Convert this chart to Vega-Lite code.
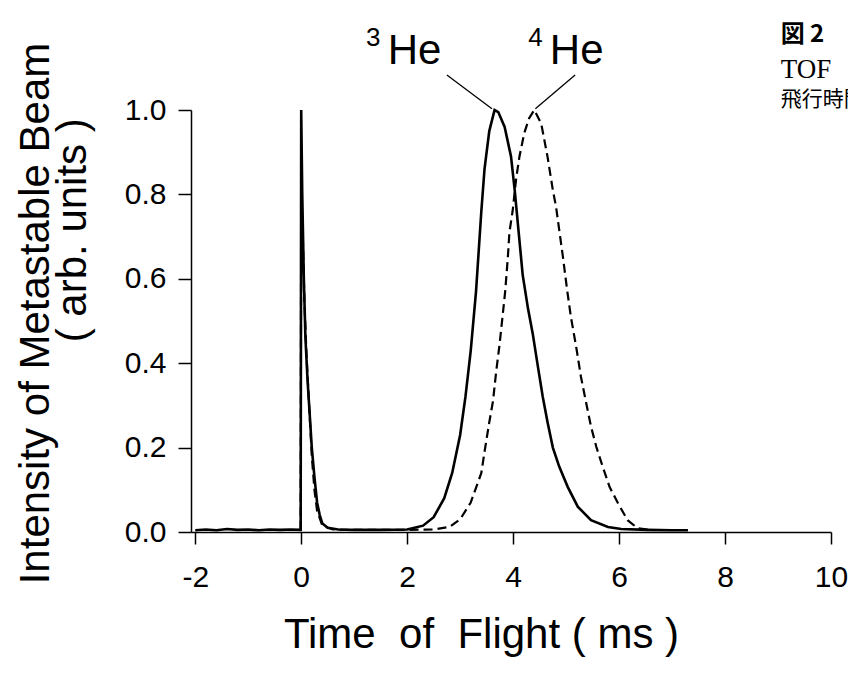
{
  "$schema": "https://vega.github.io/schema/vega-lite/v6.json",
  "autosize": "none",
  "width": 640,
  "height": 422,
  "padding": {"left": 191, "top": 110, "right": 17, "bottom": 143},
  "background": "white",
  "config": {
    "view": {"stroke": null},
    "font": "Liberation Sans",
    "axis": {"grid": false, "domainColor": "black", "domainWidth": 1.5, "tickColor": "black", "tickWidth": 1.5, "tickSize": 12, "labelColor": "black", "titleColor": "black", "labelFont": "Liberation Sans", "titleFont": "Liberation Sans", "titleFontWeight": "normal", "labelFlush": false}
  },
  "datasets": {
    "curves": [
      {"series": "3He", "t": -2.0, "v": 0.004}, {"series": "3He", "t": -1.8, "v": 0.006}, {"series": "3He", "t": -1.6, "v": 0.004}, {"series": "3He", "t": -1.4, "v": 0.007}, {"series": "3He", "t": -1.2, "v": 0.005}, {"series": "3He", "t": -1.0, "v": 0.006}, {"series": "3He", "t": -0.8, "v": 0.004}, {"series": "3He", "t": -0.6, "v": 0.006}, {"series": "3He", "t": -0.4, "v": 0.005}, {"series": "3He", "t": -0.2, "v": 0.006}, {"series": "3He", "t": -0.01, "v": 0.005}, {"series": "3He", "t": 0.0, "v": 1.0}, {"series": "3He", "t": 0.02, "v": 0.8}, {"series": "3He", "t": 0.05, "v": 0.6}, {"series": "3He", "t": 0.08, "v": 0.46}, {"series": "3He", "t": 0.12, "v": 0.36}, {"series": "3He", "t": 0.16, "v": 0.28}, {"series": "3He", "t": 0.2, "v": 0.2}, {"series": "3He", "t": 0.25, "v": 0.13}, {"series": "3He", "t": 0.3, "v": 0.07}, {"series": "3He", "t": 0.35, "v": 0.04}, {"series": "3He", "t": 0.4, "v": 0.02}, {"series": "3He", "t": 0.5, "v": 0.01}, {"series": "3He", "t": 0.7, "v": 0.006}, {"series": "3He", "t": 1.0, "v": 0.005}, {"series": "3He", "t": 1.5, "v": 0.005}, {"series": "3He", "t": 2.0, "v": 0.006}, {"series": "3He", "t": 2.3, "v": 0.015}, {"series": "3He", "t": 2.5, "v": 0.035}, {"series": "3He", "t": 2.7, "v": 0.08}, {"series": "3He", "t": 2.85, "v": 0.14}, {"series": "3He", "t": 3.0, "v": 0.23}, {"series": "3He", "t": 3.1, "v": 0.32}, {"series": "3He", "t": 3.2, "v": 0.43}, {"series": "3He", "t": 3.3, "v": 0.57}, {"series": "3He", "t": 3.4, "v": 0.76}, {"series": "3He", "t": 3.46, "v": 0.86}, {"series": "3He", "t": 3.55, "v": 0.95}, {"series": "3He", "t": 3.65, "v": 1.0}, {"series": "3He", "t": 3.72, "v": 0.995}, {"series": "3He", "t": 3.84, "v": 0.96}, {"series": "3He", "t": 3.96, "v": 0.89}, {"series": "3He", "t": 4.03, "v": 0.81}, {"series": "3He", "t": 4.12, "v": 0.69}, {"series": "3He", "t": 4.18, "v": 0.61}, {"series": "3He", "t": 4.28, "v": 0.53}, {"series": "3He", "t": 4.37, "v": 0.47}, {"series": "3He", "t": 4.47, "v": 0.39}, {"series": "3He", "t": 4.56, "v": 0.32}, {"series": "3He", "t": 4.65, "v": 0.26}, {"series": "3He", "t": 4.75, "v": 0.2}, {"series": "3He", "t": 4.87, "v": 0.155}, {"series": "3He", "t": 5.03, "v": 0.107}, {"series": "3He", "t": 5.22, "v": 0.06}, {"series": "3He", "t": 5.47, "v": 0.028}, {"series": "3He", "t": 5.79, "v": 0.012}, {"series": "3He", "t": 6.04, "v": 0.007}, {"series": "3He", "t": 6.54, "v": 0.005}, {"series": "3He", "t": 7.0, "v": 0.004}, {"series": "3He", "t": 7.3, "v": 0.004},
      {"series": "4He", "t": -0.01, "v": 0.005}, {"series": "4He", "t": 0.0, "v": 0.8}, {"series": "4He", "t": 0.03, "v": 0.7}, {"series": "4He", "t": 0.06, "v": 0.55}, {"series": "4He", "t": 0.1, "v": 0.42}, {"series": "4He", "t": 0.15, "v": 0.3}, {"series": "4He", "t": 0.2, "v": 0.18}, {"series": "4He", "t": 0.25, "v": 0.1}, {"series": "4He", "t": 0.3, "v": 0.05}, {"series": "4He", "t": 0.4, "v": 0.015}, {"series": "4He", "t": 0.6, "v": 0.006}, {"series": "4He", "t": 1.0, "v": 0.005}, {"series": "4He", "t": 1.5, "v": 0.005}, {"series": "4He", "t": 2.0, "v": 0.005}, {"series": "4He", "t": 2.5, "v": 0.006}, {"series": "4He", "t": 2.8, "v": 0.012}, {"series": "4He", "t": 3.0, "v": 0.03}, {"series": "4He", "t": 3.2, "v": 0.07}, {"series": "4He", "t": 3.4, "v": 0.14}, {"series": "4He", "t": 3.46, "v": 0.19}, {"series": "4He", "t": 3.55, "v": 0.26}, {"series": "4He", "t": 3.62, "v": 0.31}, {"series": "4He", "t": 3.68, "v": 0.38}, {"series": "4He", "t": 3.74, "v": 0.44}, {"series": "4He", "t": 3.8, "v": 0.51}, {"series": "4He", "t": 3.85, "v": 0.57}, {"series": "4He", "t": 3.9, "v": 0.65}, {"series": "4He", "t": 3.93, "v": 0.71}, {"series": "4He", "t": 3.99, "v": 0.76}, {"series": "4He", "t": 4.06, "v": 0.84}, {"series": "4He", "t": 4.12, "v": 0.89}, {"series": "4He", "t": 4.21, "v": 0.945}, {"series": "4He", "t": 4.3, "v": 0.98}, {"series": "4He", "t": 4.4, "v": 1.0}, {"series": "4He", "t": 4.53, "v": 0.968}, {"series": "4He", "t": 4.65, "v": 0.889}, {"series": "4He", "t": 4.75, "v": 0.81}, {"series": "4He", "t": 4.81, "v": 0.771}, {"series": "4He", "t": 4.87, "v": 0.716}, {"series": "4He", "t": 4.94, "v": 0.652}, {"series": "4He", "t": 5.02, "v": 0.573}, {"series": "4He", "t": 5.09, "v": 0.51}, {"series": "4He", "t": 5.19, "v": 0.439}, {"series": "4He", "t": 5.28, "v": 0.368}, {"series": "4He", "t": 5.38, "v": 0.305}, {"series": "4He", "t": 5.47, "v": 0.25}, {"series": "4He", "t": 5.57, "v": 0.202}, {"series": "4He", "t": 5.69, "v": 0.155}, {"series": "4He", "t": 5.82, "v": 0.107}, {"series": "4He", "t": 5.98, "v": 0.068}, {"series": "4He", "t": 6.16, "v": 0.028}, {"series": "4He", "t": 6.35, "v": 0.009}, {"series": "4He", "t": 6.6, "v": 0.005}
    ],
    "leaders": [
      {"x": 2.75, "y": 1.083, "x2": 3.6, "y2": 1.003},
      {"x": 5.17, "y": 1.083, "x2": 4.42, "y2": 1.003}
    ],
    "isotopes": [
      {"mass": "3", "x": 1.36, "y": 1.17},
      {"mass": "4", "x": 4.42, "y": 1.17}
    ],
    "elements": [
      {"label": "He", "x": 2.14, "y": 1.14},
      {"label": "He", "x": 5.2, "y": 1.14}
    ],
    "side": [
      {"label": "図\u00a02", "x": 9.05, "y": 1.178, "kind": "cjk"},
      {"label": "TOF", "x": 9.05, "y": 1.095, "kind": "latin"},
      {"label": "飛行時間", "x": 9.05, "y": 1.024, "kind": "cjk2"}
    ],
    "ytitle2": [
      {"label": "(\u00a0arb.\u00a0units\u00a0)", "x": -4.3, "y": 0.715}
    ]
  },
  "layer": [
    {
      "data": {"name": "curves"},
      "transform": [{"filter": "datum.series === '3He'"}],
      "mark": {"type": "line", "color": "black", "strokeWidth": 2.6, "interpolate": "linear"},
      "encoding": {
        "x": {"field": "t", "type": "quantitative", "scale": {"domain": [-2.08, 10], "nice": false, "zero": false},
          "axis": {"values": [-2, 0, 2, 4, 6, 8, 10], "labelExpr": "datum.value < 0 ? '-' + abs(datum.value) : datum.label", "labelFontSize": 30, "labelPadding": 18, "title": "Time\u00a0\u00a0of\u00a0\u00a0Flight ( ms )", "titleFontSize": 42, "titleX": 290, "titleY": 102, "titleBaseline": "middle", "titleAlign": "center", "titleAnchor": null}},
        "y": {"field": "v", "type": "quantitative", "scale": {"domain": [0, 1], "nice": false},
          "axis": {"values": [0, 0.2, 0.4, 0.6, 0.8, 1.0], "format": ".1f", "labelFontSize": 30, "labelPadding": 12, "tickSize": 13, "title": "Intensity of Metastable Beam", "titleFontSize": 42, "titleX": -156, "titleY": 203, "titleAngle": 270, "titleBaseline": "middle", "titleAlign": "center", "titleAnchor": null}}
      }
    },
    {
      "data": {"name": "curves"},
      "transform": [{"filter": "datum.series === '4He'"}],
      "mark": {"type": "line", "color": "black", "strokeWidth": 2.2, "strokeDash": [9, 5]},
      "encoding": {
        "x": {"field": "t", "type": "quantitative"},
        "y": {"field": "v", "type": "quantitative"}
      }
    },
    {
      "data": {"name": "leaders"},
      "mark": {"type": "rule", "color": "black", "strokeWidth": 1.3},
      "encoding": {
        "x": {"field": "x", "type": "quantitative"},
        "y": {"field": "y", "type": "quantitative"},
        "x2": {"field": "x2"},
        "y2": {"field": "y2"}
      }
    },
    {
      "data": {"name": "elements"},
      "mark": {"type": "text", "fontSize": 42, "font": "Liberation Sans", "color": "black", "align": "center", "baseline": "middle"},
      "encoding": {
        "x": {"field": "x", "type": "quantitative"},
        "y": {"field": "y", "type": "quantitative"},
        "text": {"field": "label"}
      }
    },
    {
      "data": {"name": "isotopes"},
      "mark": {"type": "text", "fontSize": 26, "font": "Liberation Sans", "color": "black", "align": "center", "baseline": "middle"},
      "encoding": {
        "x": {"field": "x", "type": "quantitative"},
        "y": {"field": "y", "type": "quantitative"},
        "text": {"field": "mass"}
      }
    },
    {
      "data": {"name": "side"},
      "transform": [{"filter": "datum.kind === 'cjk'"}],
      "mark": {"type": "text", "fontSize": 24, "font": "Noto Sans CJK JP", "fontWeight": "bold", "color": "black", "align": "left", "baseline": "middle"},
      "encoding": {
        "x": {"field": "x", "type": "quantitative"},
        "y": {"field": "y", "type": "quantitative"},
        "text": {"field": "label"}
      }
    },
    {
      "data": {"name": "side"},
      "transform": [{"filter": "datum.kind === 'latin'"}],
      "mark": {"type": "text", "fontSize": 27, "font": "Liberation Serif", "color": "black", "align": "left", "baseline": "middle"},
      "encoding": {
        "x": {"field": "x", "type": "quantitative"},
        "y": {"field": "y", "type": "quantitative"},
        "text": {"field": "label"}
      }
    },
    {
      "data": {"name": "side"},
      "transform": [{"filter": "datum.kind === 'cjk2'"}],
      "mark": {"type": "text", "fontSize": 21, "font": "Noto Sans CJK JP", "color": "black", "align": "left", "baseline": "middle"},
      "encoding": {
        "x": {"field": "x", "type": "quantitative"},
        "y": {"field": "y", "type": "quantitative"},
        "text": {"field": "label"}
      }
    },
    {
      "data": {"name": "ytitle2"},
      "mark": {"type": "text", "fontSize": 42, "font": "Liberation Sans", "color": "black", "align": "center", "baseline": "middle", "angle": 270},
      "encoding": {
        "x": {"field": "x", "type": "quantitative"},
        "y": {"field": "y", "type": "quantitative"},
        "text": {"field": "label"}
      }
    }
  ]
}
